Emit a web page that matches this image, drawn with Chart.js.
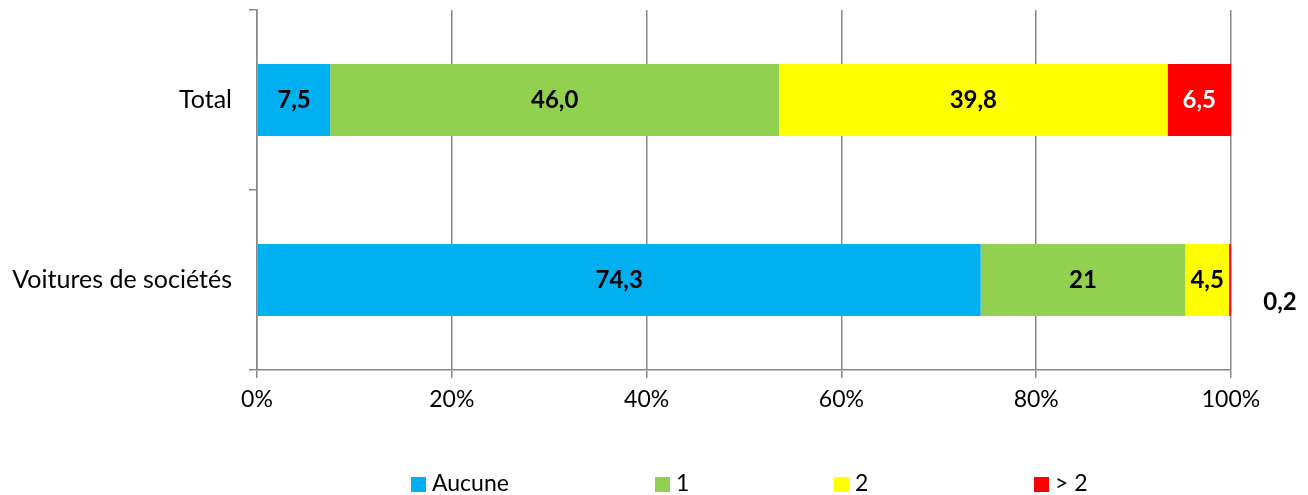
<!DOCTYPE html>
<html>
<head>
<meta charset="utf-8">
<script src="https://cdn.jsdelivr.net/npm/chart.js@4/dist/chart.umd.min.js"></script>
<style>
  body { margin: 0; background: #fff; }
  #wrap { position: relative; width: 1308px; height: 495px; }
  #legend { position: absolute; left: 411px; top: 468px; font: 23px Lato, sans-serif; color: #000; white-space: nowrap; }
  #legend span.item { display: inline-block; }
  #legend i { display: inline-block; width: 15px; height: 15px; margin-right: 6px; vertical-align: -1px; }
</style>
</head>
<body>
<div id="wrap">
  <canvas id="chart" width="1308" height="495"></canvas>
  <div id="legend"></div>
</div>
<script>
var categories = ['Total', 'Voitures de sociétés'];
var seriesNames = ['Aucune', '1', '2', '> 2'];
var aucune = [7.5, 74.3];
var un = [46.0, 21];
var deux = [39.8, 4.5];
var plusDeDeux = [6.5, 0.2];
var labelTexts = [['7,5', '74,3'], ['46,0', '21'], ['39,8', '4,5'], ['6,5', '0,2']];
var xTicks = [0, 20, 40, 60, 80, 100];

var colors = ['#00B0F0', '#92D050', '#FFFF00', '#FF0000'];
var labelColors = ['#000', '#000', '#000', '#fff'];
var legendWidths = [244, 179, 200, 80];

var raw = [aucune, un, deux, plusDeDeux];
var totals = categories.map(function (c, i) {
    return raw.reduce(function (s, arr) { return s + arr[i]; }, 0);
});

var datasets = raw.map(function (arr, k) {
    return {
        label: seriesNames[k],
        data: arr.map(function (v, i) { return v / totals[i] * 100; }),
        backgroundColor: colors[k],
        borderWidth: 0,
        barPercentage: 0.4,
        categoryPercentage: 1
    };
});

var valueLabels = {
    id: 'valueLabels',
    afterDatasetsDraw: function (chart) {
        var ctx = chart.ctx;
        ctx.save();
        ctx.font = 'bold 24px Lato, sans-serif';
        ctx.textBaseline = 'middle';
        ctx.textAlign = 'center';
        chart.data.datasets.forEach(function (ds, k) {
            chart.getDatasetMeta(k).data.forEach(function (bar, i) {
                var text = labelTexts[k][i];
                if (raw[k][i] < 1) {
                    ctx.fillStyle = '#000';
                    ctx.fillText(text, bar.x + 49, bar.y + 22);
                } else {
                    ctx.fillStyle = labelColors[k];
                    ctx.fillText(text, (bar.x + bar.base) / 2, bar.y);
                }
            });
        });
        ctx.restore();
    }
};

new Chart(document.getElementById('chart').getContext('2d'), {
    type: 'bar',
    data: { labels: categories, datasets: datasets },
    options: {
        indexAxis: 'y',
        responsive: false,
        animation: false,
        layout: { padding: { top: 10, right: 77, bottom: 77, left: 0 } },
        plugins: { legend: { display: false }, tooltip: { enabled: false } },
        scales: {
            x: {
                stacked: true,
                min: 0,
                max: 100,
                afterBuildTicks: function (s) {
                    s.ticks = xTicks.map(function (v) { return { value: v }; });
                },
                afterFit: function (s) { s.height = 48; },
                grid: { color: '#888', lineWidth: 1.5, tickLength: 8 },
                border: { color: '#888', width: 1.5 },
                ticks: {
                    padding: 8,
                    color: '#000',
                    font: { family: 'Lato', size: 23 },
                    callback: function (v) { return v + '%'; }
                }
            },
            y: {
                stacked: true,
                afterFit: function (s) { s.width = 257; s.paddingTop = 0; s.paddingBottom = 0; },
                grid: { offset: true, drawOnChartArea: false, color: '#888', lineWidth: 1.5, tickLength: 8 },
                border: { color: '#888', width: 1.5 },
                ticks: { padding: 17, color: '#000', font: { family: 'Lato', size: 25 } }
            }
        }
    },
    plugins: [valueLabels]
});

var legend = document.getElementById('legend');
seriesNames.forEach(function (name, k) {
    var item = document.createElement('span');
    item.className = 'item';
    item.style.width = legendWidths[k] + 'px';
    var box = document.createElement('i');
    box.style.background = colors[k];
    item.appendChild(box);
    item.appendChild(document.createTextNode(name));
    legend.appendChild(item);
});
</script>
</body>
</html>
